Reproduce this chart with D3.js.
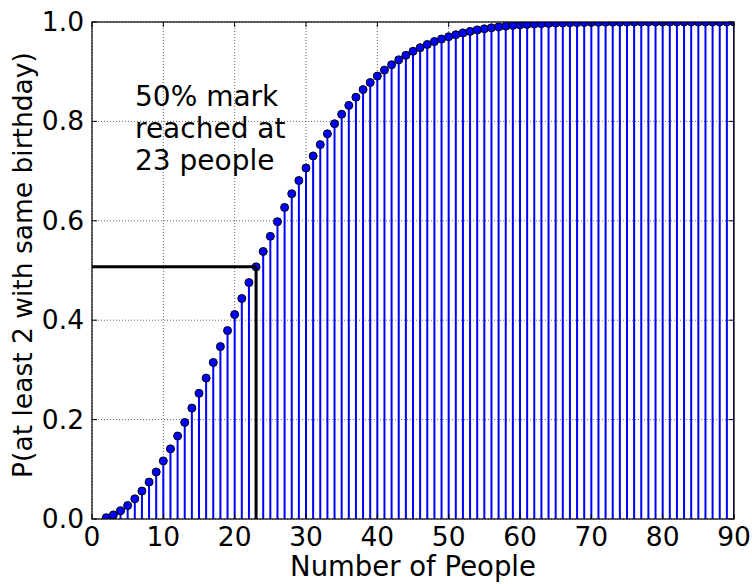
<!DOCTYPE html>
<html><head><meta charset="utf-8">
<script src="https://cdn.jsdelivr.net/npm/d3@7"></script>
<style>body{margin:0;background:#fff;} text{font-family:"DejaVu Sans",sans-serif;}</style>
</head><body><svg id="c" width="752" height="584"></svg>
<script>
const people = d3.range(2, 91);
const probs = [0.0027,0.0082,0.0164,0.0271,0.0405,0.0562,0.0743,0.0946,0.1169,0.1411,0.1670,0.1944,0.2231,0.2529,0.2836,0.3150,0.3469,0.3791,0.4114,0.4437,0.4757,0.5073,0.5383,0.5687,0.5982,0.6269,0.6545,0.6810,0.7063,0.7305,0.7533,0.7750,0.7953,0.8144,0.8322,0.8487,0.8641,0.8782,0.8912,0.9032,0.9140,0.9239,0.9329,0.9410,0.9483,0.9548,0.9606,0.9658,0.9704,0.9744,0.9780,0.9811,0.9839,0.9863,0.9883,0.9901,0.9917,0.9930,0.9941,0.9951,0.9959,0.9966,0.9972,0.9977,0.9981,0.9984,0.9987,0.9990,0.9992,0.9993,0.9995,0.9996,0.9996,0.9997,0.9998,0.9998,0.9999,0.9999,0.9999,0.9999,1.0000,1.0000,1.0000,1.0000,1.0000,1.0000,1.0000,1.0000,1.0000];
const xTicks = [0,10,20,30,40,50,60,70,80,90];
const yTicks = [0.0,0.2,0.4,0.6,0.8,1.0];
const markN = 23;
const markP = 0.5073;
const noteLines = ["50% mark","reached at","23 people"];

const L=92,R=734,T=22,B=519;
const svg=d3.select("#c");
const x=d3.scaleLinear().domain([0,90]).range([L,R]);
const y=d3.scaleLinear().domain([0,1]).range([B,T]);

svg.append("defs").append("clipPath").attr("id","clip").append("rect")
  .attr("x",L).attr("y",T).attr("width",R-L).attr("height",B-T);

// grid
const g=svg.append("g");
g.selectAll(".gx").data(xTicks).join("line").attr("x1",d=>x(d)).attr("x2",d=>x(d)).attr("y1",T).attr("y2",B)
  .attr("stroke","#000").attr("stroke-width",0.6).attr("stroke-dasharray","1,2");
g.selectAll(".gy").data(yTicks).join("line").attr("y1",d=>y(d)).attr("y2",d=>y(d)).attr("x1",L).attr("x2",R)
  .attr("stroke","#000").attr("stroke-width",0.6).attr("stroke-dasharray","1,2");

const data=people.map((n,i)=>({n,p:probs[i]}));
const pg=svg.append("g").attr("clip-path","url(#clip)");
pg.selectAll(".stem").data(data).join("line").attr("x1",d=>x(d.n)).attr("x2",d=>x(d.n))
  .attr("y1",y(0)).attr("y2",d=>y(d.p)).attr("stroke","#0000ff").attr("stroke-width",2);
pg.selectAll(".dot").data(data).join("circle").attr("cx",d=>x(d.n)).attr("cy",d=>y(d.p)).attr("r",4)
  .attr("fill","#0000ff").attr("stroke","#000").attr("stroke-width",1);

// black marker lines
pg.append("line").attr("x1",x(markN)).attr("x2",x(markN)).attr("y1",y(0)).attr("y2",y(markP)).attr("stroke","#000").attr("stroke-width",3);
pg.append("line").attr("x1",x(0)).attr("x2",x(markN)).attr("y1",y(markP)).attr("y2",y(markP)).attr("stroke","#000").attr("stroke-width",3);

// frame
svg.append("rect").attr("x",L).attr("y",T).attr("width",R-L).attr("height",B-T).attr("fill","none").attr("stroke","#000").attr("stroke-width",1.2);

// ticks inward
const tk=svg.append("g").attr("stroke","#000").attr("stroke-width",1);
xTicks.forEach(t=>{tk.append("line").attr("x1",x(t)).attr("x2",x(t)).attr("y1",B).attr("y2",B-5);
  tk.append("line").attr("x1",x(t)).attr("x2",x(t)).attr("y1",T).attr("y2",T+5);});
yTicks.forEach(t=>{tk.append("line").attr("y1",y(t)).attr("y2",y(t)).attr("x1",L).attr("x2",L+5);
  tk.append("line").attr("y1",y(t)).attr("y2",y(t)).attr("x1",R).attr("x2",R-5);});

// tick labels
svg.selectAll(".xl").data(xTicks).join("text").attr("x",d=>x(d)).attr("y",546).attr("text-anchor","middle")
  .attr("font-size",26.5).text(d=>d);
svg.selectAll(".yl").data(yTicks).join("text").attr("x",L-8).attr("y",d=>y(d)+9).attr("text-anchor","end")
  .attr("font-size",26.5).text(d=>d.toFixed(1));

svg.append("text").attr("x",413).attr("y",576).attr("text-anchor","middle").attr("font-size",27.5).text("Number of People");
svg.append("text").attr("transform",`translate(32,265) rotate(-90)`).attr("text-anchor","middle").attr("font-size",26.5)
  .text("P(at least 2 with same birthday)");

svg.selectAll(".note").data(noteLines).join("text").attr("x",135).attr("y",(d,i)=>106+i*32).attr("font-size",28).text(d=>d);
</script></body></html>
